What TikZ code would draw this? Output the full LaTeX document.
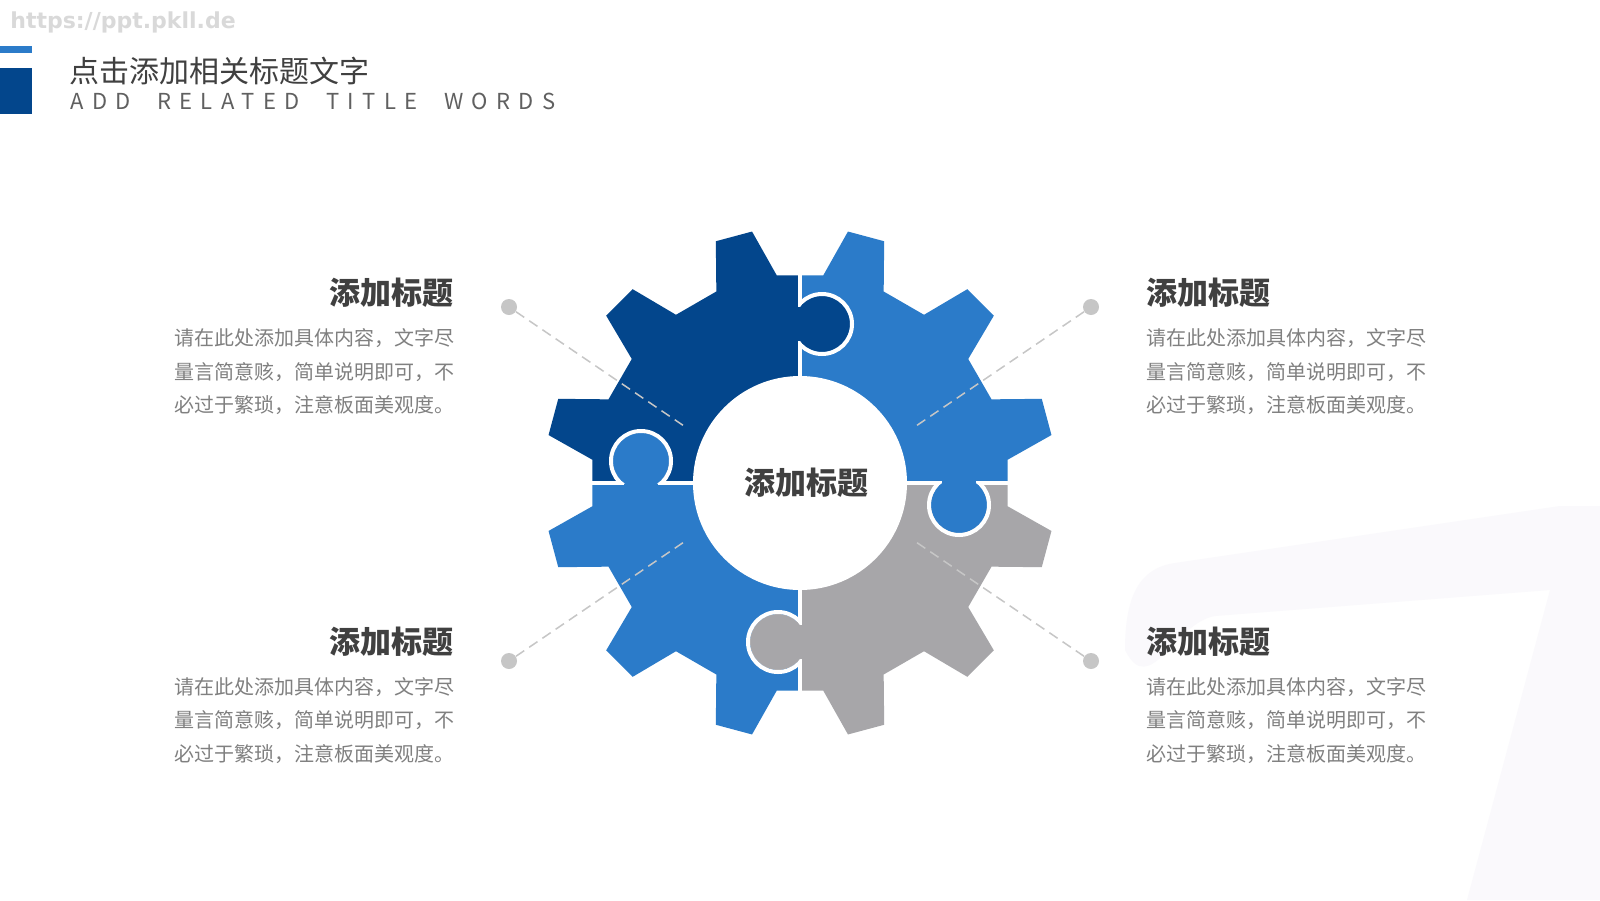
\documentclass[tikz,border=0pt]{standalone}
\usepackage{fontspec}
\setmainfont{Noto Sans CJK SC}
\newfontfamily\urlfont{DejaVu Sans}
\newfontfamily\spacedfont[LetterSpace=38,WordSpace=2.0]{Noto Sans CJK SC}
\usepackage{xcolor}
\definecolor{gdark}{HTML}{03468C}
\definecolor{glight}{HTML}{2B7BC9}
\definecolor{ggray}{HTML}{A7A6A9}
\definecolor{ink}{HTML}{404040}
\definecolor{sub}{HTML}{606060}
\definecolor{txt}{HTML}{808080}
\definecolor{dotc}{HTML}{C6C6C6}
\definecolor{wmark}{HTML}{FAF9FC}
\definecolor{urlc}{HTML}{D9D9D9}
\usetikzlibrary{calc}
\tikzset{
  head/.style={font=\bfseries\fontsize{15.5pt}{18pt}\selectfont,text=ink,inner sep=0pt},
  body/.style={font=\fontsize{10pt}{16.8pt}\selectfont,text=txt,align=left,inner sep=0pt},
  pin/.style={circle,fill=dotc,minimum size=8pt,inner sep=0pt},
  lead/.style={draw=dotc,line width=0.75pt,dash pattern=on 5pt off 3pt},
  rim/.style={draw=white,line width=2pt},
}

\begin{document}
\begin{tikzpicture}[x=0.5pt,y=-0.5pt]
\useasboundingbox (0,0) rectangle (1600,900);
\fill[white] (0,0) rectangle (1600,900);
% faint backdrop stroke
\fill[wmark] (1125,650) .. controls (1125,595) and (1140,568) .. (1175,563) -- (1560,506)
  -- (1600,506) -- (1600,900) -- (1467,900)
  -- (1550,590) -- (1215,616) .. controls (1175,622) and (1150,700) .. (1125,650) -- cycle;
% header
\node[anchor=base west,font=\urlfont\bfseries\fontsize{11pt}{13pt}\selectfont,text=urlc,inner sep=0pt] (url) at (10,28) {https://ppt.pkll.de};
\fill[glight] (0,46) rectangle (31.7,52.5);
\fill[gdark] (0,68) rectangle (31.7,114);
\node[anchor=base west,font=\fontsize{15pt}{18pt}\selectfont,text=ink,inner sep=0pt] (ttl) at (69,82.5) {点击添加相关标题文字};
\node[anchor=base west,font=\spacedfont\fontsize{11pt}{13pt}\selectfont,text=sub,inner sep=0pt] (ttlen) at (70,109) {ADD RELATED TITLE WORDS};

% gear in four pieces
\begin{scope}[shift={(800,483)}]
\foreach \ang/\col in {0/gdark,-90/glight,-180/ggray,-270/glight}{
  \begin{scope}[rotate=\ang]
  \clip (-300,-300) rectangle (0,0);
  \fill[\col] (6.4:209) \foreach \t in {15,45,...,345}{
    -- (\t-8.6:209) -- (\t-4.2:256) -- (\t+4.2:256) -- (\t+8.6:209)} -- cycle;
  \end{scope}
}
\draw[white,line width=2pt] (0,-270) -- (0,270) (-270,0) -- (270,0);
% puzzle knobs
\foreach \ang/\col in {0/gdark,-90/glight,-180/ggray,-270/glight}{
  \begin{scope}[rotate=\ang]
  \fill[\col] (22,-159) circle (28);
  \fill[\col] (-2.5,-176) rectangle (2.5,-142);
  \begin{scope}
  \clip (0,-300) rectangle (300,0);
  \draw[rim] (22,-159) circle (30);
  \end{scope}
  \end{scope}
}
\coordinate (e1) at (-116,-57);
\coordinate (e2) at (116,-57);
\coordinate (e3) at (-116,59);
\coordinate (e4) at (116,59);
\node[circle,fill=white,minimum size=107pt,inner sep=0pt,font=\bfseries\fontsize{15.5pt}{18pt}\selectfont,text=ink] (hub) at (0,0) {\hspace{6pt}添加标题};
\end{scope}

% pins and leaders
\node[pin] (p1) at (509,307) {};
\node[pin] (p2) at (1091,307) {};
\node[pin] (p3) at (509,661) {};
\node[pin] (p4) at (1091,661) {};
\foreach \i in {1,...,4} \draw[lead] (p\i) -- (e\i);

% text blocks
\node[head,anchor=base east] (h1) at (454,304) {添加标题};
\node[body,anchor=base west] (b1) at (174,412.7) {请在此处添加具体内容，文字尽\\量言简意赅，简单说明即可，不\\必过于繁琐，注意板面美观度。};
\node[head,anchor=base west] (h2) at (1146,304) {添加标题};
\node[body,anchor=base west] (b2) at (1146,412.7) {请在此处添加具体内容，文字尽\\量言简意赅，简单说明即可，不\\必过于繁琐，注意板面美观度。};
\node[head,anchor=base east] (h3) at (454,653) {添加标题};
\node[body,anchor=base west] (b3) at (174,761.2) {请在此处添加具体内容，文字尽\\量言简意赅，简单说明即可，不\\必过于繁琐，注意板面美观度。};
\node[head,anchor=base west] (h4) at (1146,653) {添加标题};
\node[body,anchor=base west] (b4) at (1146,761.2) {请在此处添加具体内容，文字尽\\量言简意赅，简单说明即可，不\\必过于繁琐，注意板面美观度。};
\end{tikzpicture}
\end{document}
